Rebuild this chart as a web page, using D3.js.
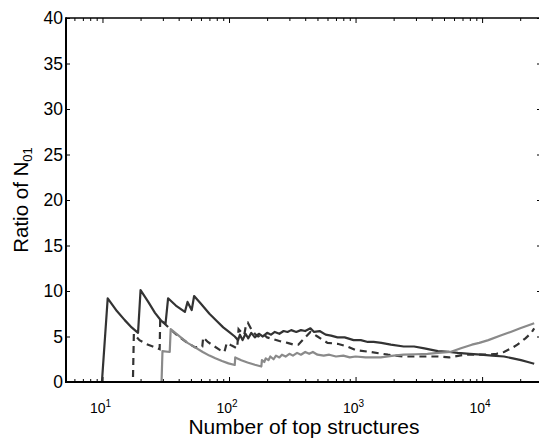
<!DOCTYPE html>
<html>
<head>
<meta charset="utf-8">
<script src="https://cdn.jsdelivr.net/npm/d3@7"></script>
<style>
  body { margin: 0; background: #fff; }
  svg { display: block; font-family: 'Liberation Sans', Arial, Helvetica, sans-serif; }
</style>
</head>
<body>
<svg id="chart"></svg>
<script>
// values: [number of top structures, ratio]
const solidData = [
  [5.15, 0], [9.9, 0], [11.0, 9.2], [13, 7.8], [15, 6.8], [17, 6.0], [19.1, 5.4],
  [20.0, 10.1], [23, 8.8], [26, 7.6], [29.2, 6.7], [31.5, 6.4],
  [33, 9.2], [38, 8.4], [44.8, 7.7], [47, 8.8], [50.7, 7.9], [53, 9.45],
  [60, 8.6], [70, 7.5], [80, 6.7], [90, 6.0], [100, 5.5], [111, 5.0], [118, 4.6],
  [122, 5.2], [128, 4.6], [135, 5.3], [142, 4.8], [150, 5.4], [160, 4.9], [172, 5.3],
  [185, 5.0], [200, 5.4], [215, 5.2], [230, 5.5], [250, 5.3], [270, 5.6], [290, 5.5],
  [310, 5.7], [340, 5.5], [370, 5.7], [400, 5.6], [440, 5.9], [470, 5.5], [520, 5.6],
  [580, 5.2], [640, 5.1], [720, 4.9], [820, 4.9], [965, 4.6], [1100, 4.6], [1250, 4.4],
  [1390, 4.4], [1600, 4.3], [1900, 4.1], [2400, 3.9], [2900, 3.9], [3500, 3.7],
  [4470, 3.4], [5500, 3.3], [6430, 3.2], [8000, 3.1], [9800, 3.0], [12000, 2.9],
  [14900, 2.8], [17500, 2.6], [20300, 2.4], [23000, 2.2], [25800, 2.0]
];

const dashedData = [
  [5.15, 0], [17.4, 0], [17.7, 5.3], [19.6, 4.6], [22, 4.2], [25, 3.9], [28.3, 3.6],
  [28.6, 6.9], [31, 6.4], [35, 5.7], [40, 5.0], [47, 4.3], [54, 3.8], [61.5, 3.9],
  [62.5, 4.9], [68, 4.4], [75, 4.0], [85, 3.5], [92, 3.3], [96, 4.3], [105, 4.0],
  [116, 3.7], [119, 5.8], [126, 5.4], [132, 5.2], [136, 6.2], [141, 6.5], [150, 5.8],
  [160, 5.3], [170, 5.0], [185, 5.3], [200, 4.9], [225, 4.7], [250, 4.5], [290, 4.3],
  [325, 4.1], [353, 4.1], [400, 4.9], [440, 5.5], [500, 5.0], [600, 4.3], [720, 4.2],
  [860, 3.9], [1000, 3.5], [1310, 3.3], [1800, 3.0], [2400, 2.8], [3500, 2.8],
  [4500, 2.8], [5500, 2.7], [7200, 3.0], [9000, 3.0], [11000, 3.0], [13000, 3.1],
  [14900, 3.3], [17000, 3.7], [19000, 4.1], [22000, 4.8], [24500, 5.4], [25800, 5.9]
];

const grayData = [
  [5.15, 0], [29.3, 0], [29.8, 3.4], [34, 3.3], [34.6, 5.8], [40, 5.1], [47, 4.3],
  [54, 3.8], [62, 3.3], [70, 2.9], [78, 2.6], [88, 2.3], [99, 2.05], [111, 1.87],
  [112, 2.7], [125, 2.4], [140, 2.15], [160, 1.9], [180, 1.7], [182, 2.4], [190, 2.2],
  [195, 2.6], [205, 2.4], [212, 2.8], [225, 2.5], [235, 2.9], [250, 2.7], [262, 3.0],
  [280, 2.8], [300, 3.1], [320, 2.9], [345, 3.2], [370, 3.0], [400, 3.3], [430, 3.1],
  [460, 3.3], [500, 3.0], [560, 2.9], [620, 3.0], [700, 2.8], [800, 2.9], [900, 2.7],
  [1000, 2.8], [1200, 2.7], [1580, 2.7], [2000, 2.9], [2400, 3.0], [3000, 3.05],
  [3700, 3.1], [4500, 3.2], [5600, 3.3], [6800, 3.7], [8300, 4.1], [9500, 4.3],
  [11200, 4.6], [14000, 5.1], [16800, 5.5], [20000, 5.9], [23000, 6.2], [25800, 6.45]
];

const yTicks = [0, 5, 10, 15, 20, 25, 30, 35, 40];
const xMajor = [10, 100, 1000, 10000];
const xMinor = [6, 7, 8, 9, 20, 30, 40, 50, 60, 70, 80, 90, 200, 300, 400, 500, 600, 700, 800, 900,
  2000, 3000, 4000, 5000, 6000, 7000, 8000, 9000, 20000];

const width = 539;
const height = 439;
const margin = { top: 18, right: -2, bottom: 57, left: 66 };

const svg = d3.select('#chart')
  .attr('width', width)
  .attr('height', height);

const x = d3.scaleLog()
  .domain([5.15, 29200])
  .range([margin.left, width - margin.right]);

const y = d3.scaleLinear()
  .domain([0, 40])
  .range([height - margin.bottom, margin.top]);

const x0 = x.range()[0], x1 = x.range()[1];
const y0 = y.range()[0], y1 = y.range()[1];

// ticks, all pointing inwards
function tickAxis(axis, yPos, size, values) {
  svg.append('g')
    .attr('transform', `translate(0,${yPos})`)
    .call(axis(x).tickValues(values).tickSize(size).tickFormat(''))
    .call(g => g.select('.domain').remove())
    .call(g => g.selectAll('line').attr('stroke', '#000').attr('stroke-width', 1));
}
tickAxis(d3.axisBottom, y0, -5, xMajor);
tickAxis(d3.axisBottom, y0, -3, xMinor);
tickAxis(d3.axisTop, y1, -5, xMajor);
tickAxis(d3.axisTop, y1, -3, xMinor);

svg.append('g')
  .attr('transform', `translate(${x0},0)`)
  .call(d3.axisLeft(y).tickValues(yTicks).tickSize(-4).tickPadding(3))
  .call(g => g.select('.domain').remove())
  .call(g => g.selectAll('line').attr('stroke', '#000'))
  .call(g => g.selectAll('text')
    .attr('font-size', 17.5)
    .attr('font-family', "'Liberation Sans', Arial, sans-serif")
    .attr('fill', '#000'));

svg.append('g')
  .attr('transform', `translate(${x1},0)`)
  .call(d3.axisRight(y).tickValues(yTicks).tickSize(-4).tickFormat(''))
  .call(g => g.select('.domain').remove())
  .call(g => g.selectAll('line').attr('stroke', '#000'));

// x tick labels as 10 with superscript exponent
const xLabels = svg.append('g')
  .selectAll('text')
  .data(xMajor)
  .enter()
  .append('text')
  .attr('x', d => x(d) - 2)
  .attr('y', 413)
  .attr('text-anchor', 'middle')
  .attr('font-size', 14);
xLabels.append('tspan').text('10');
xLabels.append('tspan')
  .attr('dy', -6)
  .attr('font-size', 10)
  .text(d => Math.round(Math.log10(d)));

// lines
const line = d3.line()
  .x(d => x(d[0]))
  .y(d => y(d[1]));

const plot = svg.append('g');

plot.append('path')
  .datum(solidData)
  .attr('fill', 'none')
  .attr('stroke', '#333')
  .attr('stroke-width', 2.2)
  .attr('stroke-linejoin', 'round')
  .attr('d', line);

plot.append('path')
  .datum(dashedData)
  .attr('fill', 'none')
  .attr('stroke', '#333')
  .attr('stroke-width', 2.2)
  .attr('stroke-dasharray', '7,5')
  .attr('d', line);

plot.append('path')
  .datum(grayData)
  .attr('fill', 'none')
  .attr('stroke', '#8a8a8a')
  .attr('stroke-width', 2.2)
  .attr('stroke-linejoin', 'round')
  .attr('d', line);

// frame
svg.append('line')
  .attr('x1', x0).attr('x2', x1).attr('y1', y1).attr('y2', y1)
  .attr('stroke', '#000').attr('stroke-width', 1.5);
svg.append('line')
  .attr('x1', x0).attr('x2', x1).attr('y1', y0).attr('y2', y0)
  .attr('stroke', '#000').attr('stroke-width', 2);
svg.append('line')
  .attr('x1', x0).attr('x2', x0).attr('y1', y1 - 0.75).attr('y2', y0 + 1)
  .attr('stroke', '#000').attr('stroke-width', 2);

// axis titles
svg.append('text')
  .attr('x', 304)
  .attr('y', 434)
  .attr('text-anchor', 'middle')
  .attr('font-size', 21)
  .text('Number of top structures');

const yTitle = svg.append('text')
  .attr('transform', 'translate(28,200) rotate(-90)')
  .attr('text-anchor', 'middle')
  .attr('font-size', 20.5);
yTitle.append('tspan').text('Ratio of N');
yTitle.append('tspan')
  .attr('dy', 4)
  .attr('font-size', 13)
  .text('01');
</script>
</body>
</html>
